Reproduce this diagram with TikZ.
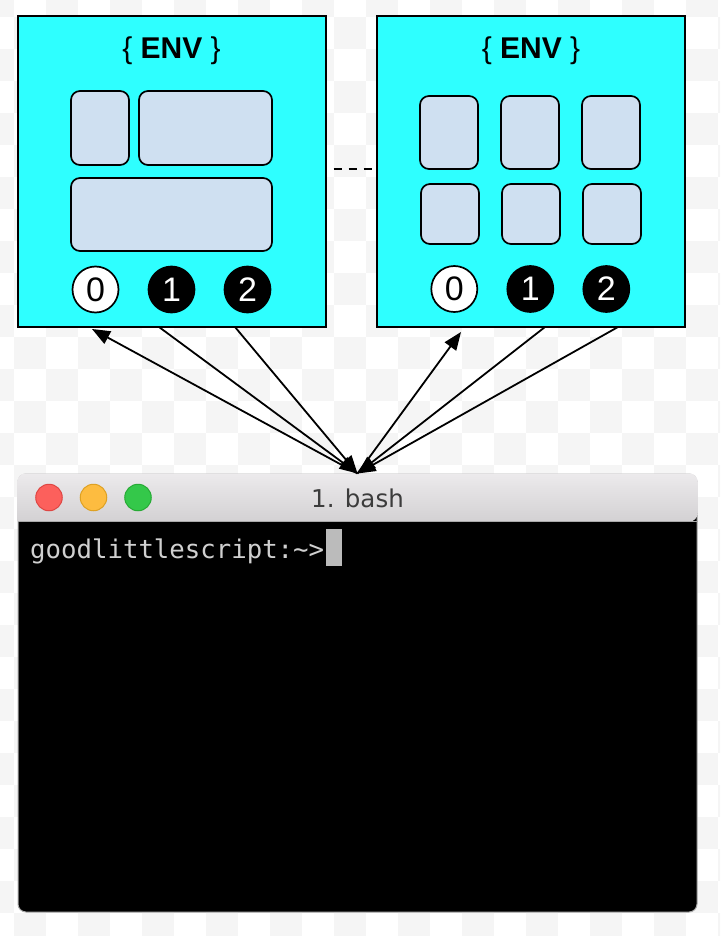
\documentclass[tikz,border=0pt]{standalone}
\usepackage{fontspec}
\setmainfont{Liberation Sans}
\newfontfamily\termfont{DejaVu Sans Mono}
\newfontfamily\barfont{DejaVu Sans}
\usetikzlibrary{arrows.meta, positioning}

\definecolor{envcyan}{RGB}{46,255,255}
\definecolor{slotblue}{RGB}{207,224,241}
\definecolor{checker}{RGB}{245,245,245}
\definecolor{barTop}{RGB}{236,234,236}
\definecolor{barBot}{RGB}{211,209,211}
\definecolor{barEdge}{RGB}{170,170,170}
\definecolor{lampRed}{RGB}{252,96,92}
\definecolor{lampRedEdge}{RGB}{222,70,67}
\definecolor{lampAmber}{RGB}{253,188,64}
\definecolor{lampAmberEdge}{RGB}{222,161,35}
\definecolor{lampGreen}{RGB}{52,200,74}
\definecolor{lampGreenEdge}{RGB}{39,170,53}
\definecolor{promptgray}{RGB}{208,208,208}

\begin{document}
\begin{tikzpicture}[x=1pt, y=-1pt, ->, >={Triangle[length=18pt,width=14pt]}, node distance=76pt,
    env/.style={rectangle, draw, fill=envcyan, line width=2pt, minimum width=308pt, minimum height=311pt, inner sep=0pt},
    envtitle/.style={font=\fontsize{30}{36}\selectfont},
    slot/.style={rectangle, draw, fill=slotblue, rounded corners=9pt, line width=1.7pt, inner sep=0pt},
    fd/.style={circle, draw, line width=1.7pt, minimum size=46pt, inner sep=0pt, font=\fontsize{34}{34}\selectfont},
    fdin/.style={fd, fill=white},
    fdout/.style={fd, fill=black, text=white},
    term/.style={rectangle, fill=black, draw=barEdge, line width=1pt, rounded corners=8pt, minimum width=679pt, minimum height=438pt},
    lamp/.style={circle, line width=1pt, minimum size=26.5pt, inner sep=0pt},
    caret/.style={rectangle, fill=promptgray!90!black, minimum width=16pt, minimum height=37pt, inner sep=0pt}]
  \tikzstyle{every node}=[font=\fontsize{30}{36}\selectfont]
  \useasboundingbox (0,0) rectangle (720,936);

  % checkered backdrop
  \begin{scope}[-]
    \clip (0,0) rectangle (720,936);
    \fill[white] (0,0) rectangle (720,936);
    \foreach \c in {-1,...,22}
      \foreach \r in {-1,...,28}{
        \pgfmathtruncatemacro\parity{mod(\c+\r+100,2)}
        \ifnum\parity=0 \fill[checker] ({14+32*\c},{17+32*\r}) rectangle +(32,32); \fi
      }
  \end{scope}

  % two environments
  \node[env] (envA) at (171.5,171.5) {};
  \node[env] (envB) at (531,171.5) {};
  \node[envtitle] (tA) at (171.5,51) {\{ \textbf{ENV} \}};
  \node[envtitle] (tB) at (531,51) {\{ \textbf{ENV} \}};

  \node[slot, minimum width=58pt, minimum height=74pt] (sA1) at (100,128) {};
  \node[slot, minimum width=133pt, minimum height=74pt] (sA2) at (205.5,128) {};
  \node[slot, minimum width=201pt, minimum height=73pt] (sA3) at (171.5,214.5) {};
  \foreach \i/\x in {1/449,2/530,3/611}{
    \node[slot, minimum width=58pt, minimum height=73pt] (sB\i) at (\x,132.5) {};
    \node[slot, minimum width=58pt, minimum height=60pt] (sC\i) at (\x+1,214) {};
  }

  \node[fdin] (a0) at (95.5,289.5) {0};
  \node[fdout] (a1) [right of=a0] {1};
  \node[fdout] (a2) [right of=a1] {2};
  \node[fdin] (b0) at (454.3,289) {0};
  \node[fdout] (b1) [right of=b0] {1};
  \node[fdout] (b2) [right of=b1] {2};

  \draw[-, line width=1.8pt, dash pattern=on 8pt off 7pt, shorten <=7pt] ([yshift=2.5pt]envA.east) -- ([yshift=2.5pt]envB.west);

  % terminal window
  \node[term] (term) at (357.5,693) {};
  \shade[-, top color=barTop, bottom color=barBot] ([yshift=-48pt]term.north west) [rounded corners=8pt] |- (term.north) -| ([yshift=-48pt]term.north east) [sharp corners] -- cycle;
  \draw[-, barEdge, line width=1.2pt] ([yshift=-48pt]term.north west) -- ([yshift=-48pt]term.north east);

  \node[lamp, fill=lampRed, draw=lampRedEdge] (red) at (49,497.5) {};
  \node[lamp, fill=lampAmber, draw=lampAmberEdge, node distance=44.5pt] (amber) [right of=red] {};
  \node[lamp, fill=lampGreen, draw=lampGreenEdge, node distance=44.5pt] (green) [right of=amber] {};
  \node[font=\barfont\fontsize{24.5}{28}\selectfont, text={rgb,255:red,60;green,60;blue,60}] (bar) at (357.5,498) {1. bash};

  \node[anchor=base west, inner sep=0pt, font=\termfont\fontsize{25.7}{30}\selectfont, text=promptgray] (prompt) at (30,558) {goodlittlescript:\string~>};
  \node[caret] (cursor) at (334,547.5) {};

  % streams
  \coordinate (inA) at (92,329);
  \coordinate (outA1) at (159,327);
  \coordinate (outA2) at (235,327);
  \coordinate (inB) at (461,332);
  \coordinate (outB1) at (545,327);
  \coordinate (outB2) at (618,327);
  \path[line width=1.8pt]
    (term.north) edge (inA)
                 edge (inB)
    (outA1) edge (term.north)
    (outA2) edge (term.north)
    (outB1) edge (term.north)
    (outB2) edge (term.north);

\end{tikzpicture}
\end{document}
